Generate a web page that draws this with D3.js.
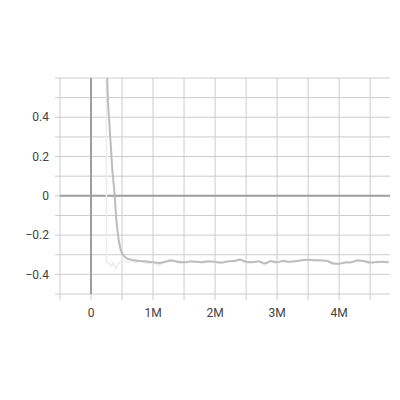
<!DOCTYPE html>
<html>
<head>
<meta charset="utf-8">
<script src="https://cdn.jsdelivr.net/npm/d3@7"></script>
<style>
  body { margin: 0; background: #fff; }
  text { font-family: Roboto, "Liberation Sans", Arial, sans-serif; }
</style>
</head>
<body>
<div id="my_dataviz"></div>
<script>
// smoothed series (step in millions, value)
var smoothSteps = [0.24, 0.261, 0.302, 0.342, 0.382, 0.403, 0.435, 0.474, 0.516, 0.571,
  0.652, 0.75, 0.834, 0.9, 1.0, 1.1, 1.2, 1.3, 1.4, 1.5, 1.6, 1.7, 1.8, 1.9, 2.0, 2.1,
  2.2, 2.3, 2.4, 2.5, 2.6, 2.7, 2.8, 2.9, 3.0, 3.1, 3.2, 3.3, 3.4, 3.5, 3.6, 3.7, 3.8,
  3.9, 4.0, 4.1, 4.2, 4.3, 4.4, 4.5, 4.6, 4.7, 4.8];
var smoothValues = [1.0, 0.6, 0.34, 0.14, 0.0, -0.1, -0.2, -0.27, -0.3, -0.317,
  -0.326, -0.331, -0.333, -0.334, -0.338, -0.342, -0.336, -0.330, -0.336, -0.338,
  -0.335, -0.336, -0.338, -0.334, -0.336, -0.340, -0.334, -0.332, -0.326, -0.336,
  -0.338, -0.334, -0.344, -0.333, -0.338, -0.332, -0.336, -0.333, -0.328, -0.326,
  -0.328, -0.329, -0.331, -0.343, -0.346, -0.340, -0.338, -0.330, -0.332, -0.340,
  -0.338, -0.336, -0.338];

// raw series, drawn very faint behind
var rawSteps = [0.247, 0.249, 0.27, 0.3, 0.33, 0.36, 0.4, 0.44, 0.5, 0.55, 0.6, 0.66,
  0.72, 0.8, 0.9, 1.0, 1.1, 1.2, 1.3, 1.4, 1.5, 1.6, 1.7, 1.8, 1.9, 2.0, 2.1, 2.2, 2.3,
  2.4, 2.5, 2.6, 2.7, 2.8, 2.9, 3.0, 3.1, 3.2, 3.3, 3.4, 3.5, 3.6, 3.7, 3.8, 3.9, 4.0,
  4.1, 4.2, 4.3, 4.4, 4.5, 4.6, 4.7, 4.8];
var rawValues = [3.0, -0.335, -0.34, -0.35, -0.36, -0.34, -0.37, -0.345, -0.33, -0.335,
  -0.34, -0.33, -0.34, -0.33, -0.345, -0.34, -0.355, -0.33, -0.325, -0.34, -0.345,
  -0.33, -0.34, -0.335, -0.33, -0.34, -0.345, -0.33, -0.335, -0.32, -0.345, -0.34,
  -0.33, -0.355, -0.325, -0.345, -0.325, -0.34, -0.335, -0.325, -0.322, -0.33, -0.325,
  -0.335, -0.35, -0.345, -0.335, -0.34, -0.325, -0.335, -0.345, -0.335, -0.34, -0.34];

var yTicks = [0.4, 0.2, 0, -0.2, -0.4];
var xTicks = [0, 1, 2, 3, 4];
var xTickLabels = ["0", "1M", "2M", "3M", "4M"];

var margin = {top: 78, right: 10, bottom: 106, left: 60},
    width = 400 - margin.left - margin.right,
    height = 400 - margin.top - margin.bottom;

var svg = d3.select("#my_dataviz")
  .append("svg")
  .attr("width", 400)
  .attr("height", 400)
  .append("g")
  .attr("transform", "translate(" + margin.left + "," + margin.top + ")");

var x = d3.scaleLinear().domain([-0.5, 4.82]).range([0, width]);
var y = d3.scaleLinear().domain([-0.5, 0.6]).range([height, 0]);

// grid lines every 0.5M / 0.1
var xGrid = d3.range(-0.5, 4.6, 0.5);
var yGrid = d3.range(-5, 7).map(function(d) { return d / 10; });

svg.append("g").selectAll("line")
  .data(xGrid).enter().append("line")
  .attr("x1", function(d) { return x(d); })
  .attr("x2", function(d) { return x(d); })
  .attr("y1", 0).attr("y2", height + 6)
  .attr("stroke", "#ccc").attr("stroke-width", 1);

svg.append("g").selectAll("line")
  .data(yGrid).enter().append("line")
  .attr("x1", -5).attr("x2", width)
  .attr("y1", function(d) { return y(d); })
  .attr("y2", function(d) { return y(d); })
  .attr("stroke", "#ccc").attr("stroke-width", 1);

// zero axes
svg.append("line")
  .attr("x1", 0).attr("x2", width)
  .attr("y1", y(0)).attr("y2", y(0))
  .attr("stroke", "#9e9e9e").attr("stroke-width", 2);
svg.append("line")
  .attr("x1", x(0)).attr("x2", x(0))
  .attr("y1", 0).attr("y2", height)
  .attr("stroke", "#9e9e9e").attr("stroke-width", 2);

// tick labels
svg.append("g").selectAll("text")
  .data(yTicks).enter().append("text")
  .attr("x", -11)
  .attr("y", function(d) { return y(d); })
  .attr("dy", "0.35em")
  .attr("text-anchor", "end")
  .attr("font-size", 12)
  .attr("fill", "#424242")
  .text(function(d) { return d3.format("")(d); });

svg.append("g").selectAll("text")
  .data(xTicks).enter().append("text")
  .attr("x", function(d) { return x(d); })
  .attr("y", height + 23)
  .attr("text-anchor", "middle")
  .attr("font-size", 12)
  .attr("fill", "#424242")
  .text(function(d, i) { return xTickLabels[i]; });

// clip the lines to the plot area
svg.append("defs").append("clipPath")
  .attr("id", "clip")
  .append("rect")
  .attr("width", width)
  .attr("height", height);

var plot = svg.append("g").attr("clip-path", "url(#clip)");

var line = d3.line()
  .x(function(d) { return x(d[0]); })
  .y(function(d) { return y(d[1]); });

plot.append("path")
  .datum(d3.zip(rawSteps, rawValues))
  .attr("fill", "none")
  .attr("stroke", "#ececec")
  .attr("stroke-width", 1.5)
  .attr("d", line);

plot.append("path")
  .datum(d3.zip(smoothSteps, smoothValues))
  .attr("fill", "none")
  .attr("stroke", "#bdbdbd")
  .attr("stroke-width", 2)
  .attr("stroke-linejoin", "round")
  .attr("d", line.curve(d3.curveMonotoneX));
</script>
</body>
</html>
